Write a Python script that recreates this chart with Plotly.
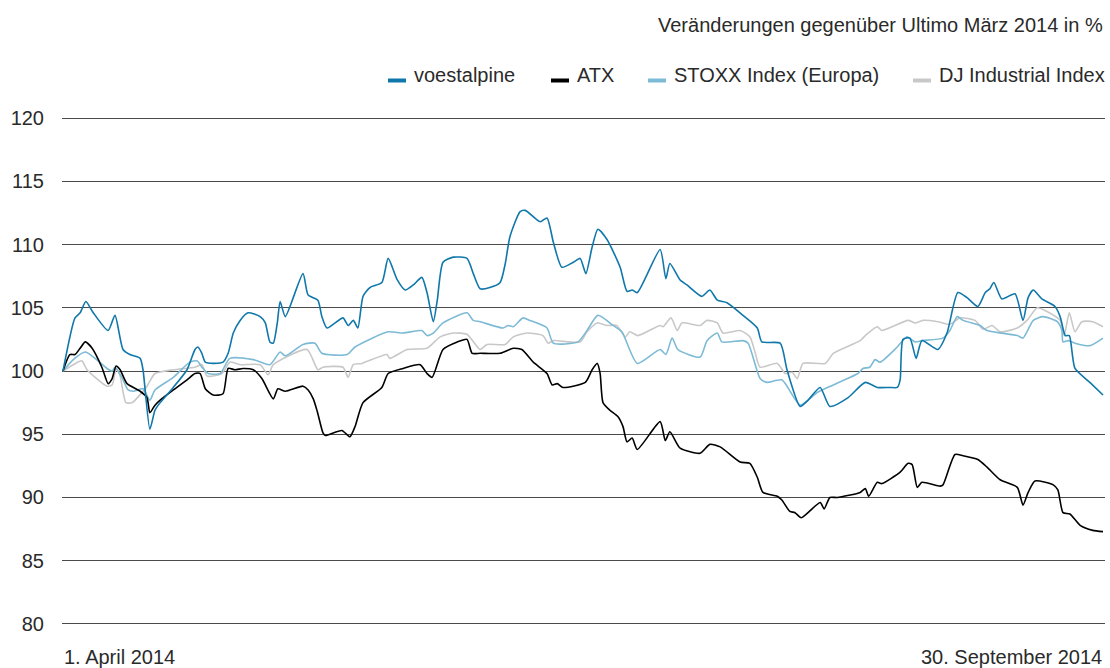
import pandas as pd
import plotly.graph_objects as go

START = pd.Timestamp("2014-04-01")

# ---- data: (day offset from 1 April 2014, index value; 31 March 2014 = 100) ----
voest_days = [0, 2.1, 3.0, 4.0, 5.3, 7.9, 9.1, 10.5, 11.7, 13.5, 14.0, 15.2, 16.1, 17.0, 19.3, 21.7, 23.1, 23.6,
              24.3, 24.9, 26.3, 28.0, 28.9, 29.8, 31.0, 32.4, 34.5, 35.4, 36.2, 36.8, 37.5, 38.0, 38.9, 42.0,
              42.9, 44.6, 45.3, 46.2, 49.0, 49.9, 50.8, 51.6, 52.5, 53.7, 55.8, 56.9, 58.5, 59.9, 61.3, 62.8,
              63.7, 64.8, 65.5, 66.5, 68.3, 70.7, 71.8, 73.0, 74.7, 76.5, 77.4, 78.2, 80.0, 80.9, 83.5, 84.7,
              85.8, 87.3, 89.3, 90.5, 91.5, 92.6, 93.6, 95.2, 97.5, 98.7, 99.6, 100.5, 104.5, 105.5, 106.2,
              108.0, 109.2, 111.8, 113.2, 114.5, 116.2, 119.0, 121.5, 122.3, 125.5, 126.7, 129.0, 130.4, 132.5,
              134.2, 137.4, 140.4, 142.5, 144.7, 146.0, 146.5, 147.0, 148.2, 149.3, 150.3, 153.1, 154.7, 156.6,
              158.2, 160.1, 161.4, 162.2, 162.9, 164.3, 166.6, 168.0, 168.9, 169.8, 171.3, 173.6, 174.5, 175.4,
              176.1, 177.1, 179.7, 182.0]
voest_vals = [100, 104.2, 104.6, 105.5, 104.6, 103.2, 104.4, 101.7, 101.3, 101.0, 100.1, 95.4, 96.9, 97.5, 98.7,
              100.1, 101.7, 101.9, 101.4, 100.7, 100.6, 100.7, 101.4, 103.0, 104.0, 104.6, 104.3, 103.8, 102.3,
              102.2, 103.8, 105.5, 104.3, 107.7, 106.0, 105.6, 104.3, 103.4, 104.2, 103.6, 104.0, 103.4, 105.9,
              106.6, 107.0, 108.9, 107.2, 106.4, 106.8, 107.4, 106.2, 103.9, 105.6, 108.6, 109.0, 108.9, 107.7,
              106.5, 106.6, 107.0, 108.5, 110.6, 112.6, 112.7, 111.8, 112.1, 110.2, 108.2, 108.6, 108.9, 107.7,
              109.8, 111.2, 110.4, 108.2, 106.3, 106.4, 106.2, 109.6, 107.3, 108.5, 107.2, 106.8, 105.9, 106.4,
              105.6, 105.4, 104.4, 103.4, 102.3, 102.2, 100.1, 97.2, 97.7, 98.7, 97.2, 97.9, 99.1, 98.7, 98.7,
              98.7, 99.3, 102.5, 102.6, 101.0, 102.4, 101.7, 103.0, 106.2, 105.8, 105.1, 106.2, 106.5, 107.0,
              105.7, 106.1, 104.0, 105.8, 106.4, 105.7, 105.1, 104.3, 102.8, 102.8, 100.2, 99.1, 98.1]

atx_days = [0, 1.2, 2.1, 3.0, 3.9, 5.1, 6.8, 7.9, 8.6, 9.3, 10.0, 11.2, 13.5, 14.7, 15.2, 16.1, 17.0, 19.3, 21.7,
            23.1, 24.0, 24.9, 26.3, 28.0, 28.9, 30.1, 31.5, 33.3, 34.8, 36.8, 37.6, 38.9, 42.0, 42.9, 43.8, 44.5,
            45.5, 45.9, 48.8, 50.2, 51.1, 52.5, 55.8, 56.9, 59.5, 62.5, 63.7, 64.6, 66.5, 69.0, 70.7, 71.6, 73.0,
            76.5, 78.8, 80.3, 82.3, 84.7, 85.6, 86.5, 87.5, 91.4, 92.6, 93.5, 94.0, 94.5, 95.7, 97.1, 98.0, 98.7,
            99.6, 100.5, 104.5, 105.4, 106.2, 108.0, 111.5, 113.2, 115.0, 118.5, 120.2, 121.5, 122.5, 125.0,
            125.8, 127.2, 128.1, 129.2, 132.5, 133.2, 134.2, 135.5, 139.5, 140.4, 141.0, 142.5, 143.3, 146.5,
            147.9, 148.6, 149.5, 150.3, 153.5, 154.0, 156.1, 157.5, 160.1, 161.7, 164.0, 167.0, 168.0, 168.9,
            170.1, 173.3, 174.1, 175.0, 176.2, 178.0, 180.2, 182.0]
atx_vals = [100, 101.3, 101.3, 101.8, 102.3, 101.8, 100.3, 99.0, 99.4, 100.4, 100.1, 99.0, 98.4, 97.9, 96.7, 97.3,
            97.7, 98.5, 99.3, 99.8, 99.8, 98.6, 98.1, 98.2, 100.2, 100.1, 100.2, 100.1, 99.4, 97.8, 98.6, 98.4,
            98.8, 98.5, 97.8, 96.8, 95.1, 94.9, 95.3, 94.8, 95.6, 97.5, 98.7, 99.8, 100.2, 100.5, 99.8, 99.5,
            101.7, 102.3, 102.5, 101.4, 101.4, 101.4, 101.8, 101.7, 100.7, 99.8, 98.9, 99.0, 98.7, 99.1, 100.1,
            100.6, 99.8, 97.5, 96.9, 96.4, 95.6, 94.4, 94.7, 93.8, 96.0, 94.5, 95.2, 93.9, 93.5, 94.2, 94.0,
            92.8, 92.7, 91.6, 90.4, 90.1, 89.8, 88.9, 88.8, 88.4, 89.6, 89.1, 90.0, 90.0, 90.4, 90.7, 90.1,
            91.2, 91.1, 92.0, 92.7, 92.6, 90.8, 91.2, 90.9, 91.0, 93.4, 93.3, 93.0, 92.4, 91.4, 90.8, 89.4,
            90.4, 91.3, 91.0, 90.6, 88.8, 88.7, 87.8, 87.4, 87.3]

stoxx_days = [0, 1.8, 3.9, 5.6, 7.7, 8.6, 9.1, 10.3, 11.4, 12.3, 14.0, 15.2, 16.1, 19.3, 22.2, 23.5, 24.3, 25.4,
              27.5, 29.2, 33.3, 36.2, 38.0, 38.9, 42.0, 44.1, 45.3, 49.7, 51.1, 56.9, 59.5, 62.8, 63.7, 64.8,
              66.5, 70.7, 71.8, 73.0, 77.0, 77.9, 78.8, 80.5, 81.7, 84.7, 85.8, 90.1, 91.7, 93.6, 96.3, 97.8,
              100.5, 104.5, 105.5, 106.6, 107.6, 111.5, 112.7, 114.5, 115.3, 119.0, 119.9, 122.0, 123.2, 125.8,
              129.0, 132.0, 134.8, 139.1, 140.0, 141.2, 142.1, 143.0, 146.0, 147.7, 149.1, 150.3, 154.0, 155.2,
              156.5, 157.5, 160.5, 161.7, 167.0, 168.0, 169.8, 171.5, 174.0, 174.8, 175.0, 175.9, 177.1, 179.7,
              182.0]
stoxx_vals = [100, 100.9, 101.5, 101.0, 100.2, 100.0, 100.3, 99.5, 98.5, 98.4, 98.6, 97.7, 98.5, 99.5, 100.7,
              100.8, 100.3, 99.8, 99.8, 101.0, 100.9, 100.5, 101.5, 101.2, 102.1, 102.2, 101.4, 101.3, 101.9,
              103.1, 103.0, 103.2, 102.8, 103.0, 103.8, 104.6, 104.0, 103.9, 103.4, 103.6, 103.5, 104.2, 104.0,
              103.4, 102.2, 102.3, 103.2, 104.4, 103.6, 103.1, 100.6, 101.7, 101.3, 102.6, 101.7, 101.1, 102.4,
              103.0, 102.3, 102.4, 102.2, 99.4, 99.1, 99.3, 97.3, 98.3, 98.9, 99.8, 100.2, 100.3, 100.9, 100.7,
              101.9, 102.7, 102.3, 102.4, 102.6, 103.2, 104.3, 104.0, 103.6, 103.2, 102.8, 102.6, 104.0, 104.3,
              103.9, 103.2, 102.3, 102.4, 102.2, 102.0, 102.6]

dj_days = [0, 1.8, 3.3, 4.2, 7.7, 8.6, 9.3, 10.0, 11.0, 12.1, 14.7, 15.2, 16.1, 19.3, 23.1, 24.3, 25.2, 27.8, 29.2,
           31.0, 34.5, 35.9, 36.8, 42.7, 44.6, 45.5, 49.0, 49.9, 50.8, 52.3, 56.7, 57.2, 60.2, 63.7, 66.0, 68.3,
           70.7, 73.0, 74.2, 77.4, 78.8, 81.2, 84.0, 84.9, 85.8, 90.5, 91.7, 93.5, 95.2, 96.9, 98.4, 99.2, 100.6,
           104.5, 105.0, 106.4, 107.5, 108.3, 111.5, 112.7, 114.5, 115.5, 118.5, 120.2, 121.1, 122.0, 125.0,
           126.4, 127.6, 128.5, 129.5, 133.4, 134.8, 139.5, 140.4, 142.5, 143.3, 147.9, 149.1, 150.5, 153.1,
           155.2, 157.0, 159.6, 161.0, 162.6, 164.0, 167.0, 168.7, 170.5, 172.2, 174.5, 175.2, 176.1, 177.1,
           178.3, 180.2, 182.0]
dj_vals = [100, 100.5, 100.8, 100.1, 98.8, 98.9, 100.2, 99.6, 97.5, 97.5, 98.8, 99.2, 99.8, 100.1, 100.3, 100.5,
           99.6, 99.8, 100.7, 100.5, 100.5, 99.7, 100.5, 101.7, 100.1, 100.3, 100.3, 99.5, 100.5, 100.6, 101.3,
           101.0, 101.7, 101.8, 102.7, 103.0, 102.9, 101.7, 102.1, 102.1, 102.7, 103.0, 102.8, 102.2, 102.4,
           102.3, 103.1, 103.8, 103.6, 103.6, 102.7, 103.1, 102.8, 103.6, 103.5, 104.2, 103.2, 103.8, 103.6,
           104.0, 103.8, 103.0, 103.2, 102.7, 101.5, 100.3, 100.6, 99.8, 99.9, 99.4, 100.6, 100.6, 101.4, 102.4,
           102.8, 103.5, 103.2, 104.0, 103.8, 104.0, 103.9, 103.7, 104.2, 104.0, 103.3, 103.6, 103.1, 103.4,
           104.0, 105.0, 104.7, 104.0, 102.8, 104.6, 103.1, 103.9, 103.9, 103.5]

series_names = ["voestalpine", "ATX", "STOXX Index (Europa)", "DJ Industrial Index"]
series_colors = ["#0f77aa", "#000000", "#7dbad6", "#c8c8c8"]
y_ticks = [80, 85, 90, 95, 100, 105, 110, 115, 120]
title_text = "Veränderungen gegenüber Ultimo März 2014 in %"
start_label = "1. April 2014"
end_label = "30. September 2014"

FONT = "Liberation Sans"
TXT = "#2a2a2a"

def to_dates(days):
    return [START + pd.Timedelta(days=d) for d in days]

fig = go.Figure()
data = {
    "voestalpine": (voest_days, voest_vals),
    "ATX": (atx_days, atx_vals),
    "STOXX Index (Europa)": (stoxx_days, stoxx_vals),
    "DJ Industrial Index": (dj_days, dj_vals),
}
for name in ["DJ Industrial Index", "STOXX Index (Europa)", "ATX", "voestalpine"]:
    d, v = data[name]
    col = series_colors[series_names.index(name)]
    fig.add_trace(go.Scatter(x=to_dates(d), y=v, mode="lines", name=name,
                             line=dict(color=col, width=1.6, shape="spline", smoothing=0.6),
                             showlegend=False, hoverinfo="x+y+name"))

# plot area in pixels
L, R, T, B = 62, 1105, 117, 625
W, H = 1110, 668
def px(x):
    return (x - L) / (R - L)
def py(y):
    return (B - y) / (B - T)

x0 = START - pd.Timedelta(days=0.175)
x1 = START + pd.Timedelta(days=182.35)

fig.update_layout(
    width=W, height=H,
    margin=dict(l=L, r=W - R, t=T, b=H - B),
    paper_bgcolor="white", plot_bgcolor="white",
    font=dict(family=FONT, size=20, color=TXT),
    xaxis=dict(type="date", range=[x0, x1], showgrid=False, showticklabels=False,
               zeroline=False, showline=False, ticks="", fixedrange=True),
    yaxis=dict(range=[79.92, 120.08], tickvals=y_ticks, ticktext=[str(t) for t in y_ticks],
               showgrid=True, gridcolor="#4a4a4a", gridwidth=1.3, zeroline=False,
               showline=False, ticks="", ticklabelstandoff=17, fixedrange=True,
               tickfont=dict(family=FONT, size=20, color=TXT)),
)

ann = [
    dict(text=title_text, x=px(1105), y=py(25), xanchor="right", yanchor="middle"),
    dict(text=start_label, x=px(62), y=py(657), xanchor="left", yanchor="middle"),
    dict(text=end_label, x=px(1104), y=py(657), xanchor="right", yanchor="middle"),
]
legend_x = [388, 551, 648, 913]
shapes = []
for name, col, lx in zip(series_names, series_colors, legend_x):
    shapes.append(dict(type="line", xref="paper", yref="paper", x0=px(lx), x1=px(lx + 18),
                       y0=py(80.5), y1=py(80.5), line=dict(color=col, width=4)))
    ann.append(dict(text=name, x=px(lx + 24), y=py(75), xanchor="left", yanchor="middle"))
for a in ann:
    a.update(xref="paper", yref="paper", showarrow=False,
             font=dict(family=FONT, size=20, color=TXT))
fig.update_layout(annotations=ann, shapes=shapes)

fig.write_html("out.html", config={"displayModeBar": False},
               post_script="document.body.style.margin='0';")
